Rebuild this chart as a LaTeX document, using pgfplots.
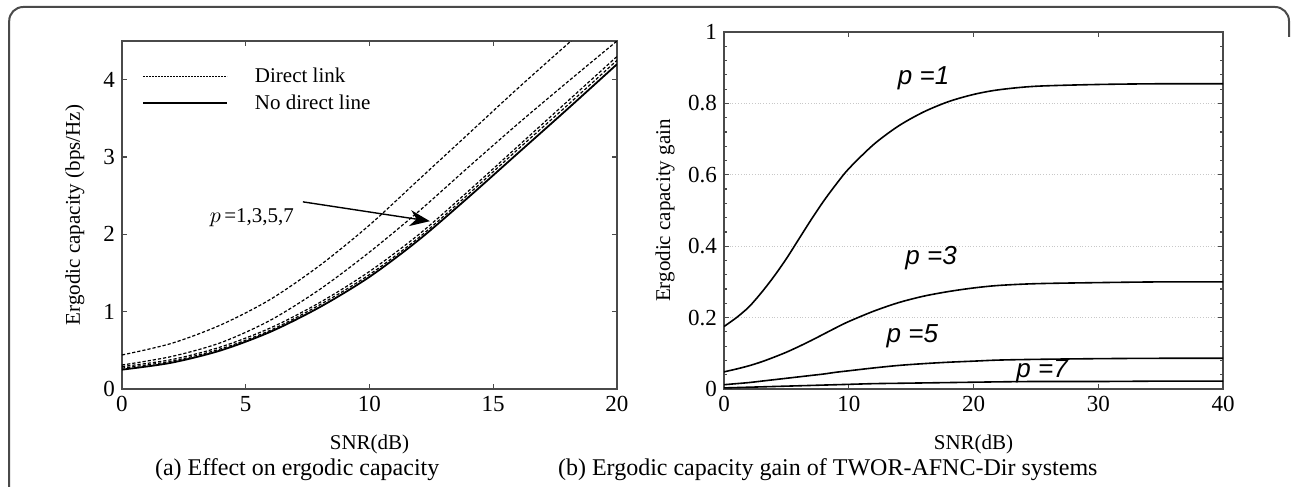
\documentclass[border=0pt]{standalone}
\usepackage{fontspec}
\setmainfont{Liberation Serif}
\newfontfamily\helv{Liberation Sans}
\usepackage{pgfplots}
\pgfplotsset{compat=1.18}
\usetikzlibrary{arrows.meta}
\definecolor{axc}{HTML}{4A4A4A}
\definecolor{gridc}{HTML}{C8C8C8}
\newcommand{\tfont}{\fontsize{10.5}{12}\selectfont}
\newcommand{\kfont}{\fontsize{11.5}{13}\selectfont}
\pgfplotsset{
  panel/.style={
    scale only axis, anchor=south west,
    axis line style={axc, line width=0.7pt},
    tick style={axc, line width=0.6pt},
    tick align=inside, major tick length=2.5pt, minor tick length=1.5pt,
    ticklabel style={font=\kfont},
    /pgf/number format/assume math mode=true,
    label style={font=\tfont},
  },
  dl/.style={black, line width=0.6pt, dash pattern=on 1.6pt off 1pt, smooth},
  nd/.style={black, line width=0.9pt, smooth},
  gc/.style={black, line width=0.8pt, smooth},
}

\pgfplotstableread{
x   nd    p7    p5    p3    p1
0   0.25  0.27  0.29  0.31  0.44
2   0.34  0.36  0.38  0.42  0.59
4   0.50  0.52  0.545 0.60  0.83
6   0.74  0.76  0.79  0.89  1.16
8   1.06  1.09  1.12  1.29  1.60
10  1.45  1.48  1.52  1.77  2.12
12  1.93  1.96  2.00  2.30  2.71
14  2.48  2.52  2.56  2.87  3.30
16  3.05  3.10  3.14  3.43  3.89
18  3.62  3.67  3.72  3.97  4.46
20  4.20  4.25  4.30  4.50  5.02
}\capdata

\pgfplotstableread{
x   g1     g3     g5     g7
0   0.175  0.048  0.012  0.003
1   0.200  0.056  0.015  0.004
2   0.230  0.065  0.018  0.005
3   0.270  0.076  0.022  0.006
4   0.315  0.089  0.026  0.007
5   0.365  0.103  0.030  0.008
6   0.420  0.119  0.034  0.009
7   0.475  0.136  0.038  0.010
8   0.527  0.154  0.042  0.011
9   0.574  0.172  0.047  0.012
10  0.617  0.189  0.051  0.013
12  0.685  0.218  0.059  0.015
14  0.737  0.242  0.066  0.016
16  0.776  0.260  0.071  0.017
18  0.805  0.273  0.075  0.018
20  0.825  0.283  0.078  0.019
22  0.838  0.290  0.081  0.020
25  0.848  0.295  0.083  0.021
30  0.853  0.298  0.085  0.021
35  0.855  0.300  0.086  0.022
40  0.855  0.300  0.086  0.022
}\gaindata

\begin{document}
\begin{tikzpicture}
\useasboundingbox (0pt,0pt) rectangle (646pt,243.5pt);
\draw[axc, line width=1pt, rounded corners=7pt] (4.6pt,0pt) -- (4.6pt,240pt) -- (644.5pt,240pt) -- (644.5pt,225pt);

% (a)
\begin{axis}[panel, at={(61pt,49pt)}, width=247.5pt, height=174pt,
  xmin=0, xmax=20, ymin=0, ymax=4.5,
  xtick={0,5,...,20}, ytick={0,1,2,3,4},
  xlabel={SNR(dB)}, ylabel={Ergodic capacity (bps/Hz)},
  xlabel style={at={(axis description cs:0.5,-0.16)}, anchor=center},
  ylabel style={at={(axis description cs:-0.095,0.5)}, anchor=center},
  legend style={draw=none, fill=none, font=\tfont, at={(rel axis cs:0.04,0.935)},
    anchor=north west, inner sep=0pt, row sep=0.5pt,
    /tikz/every odd column/.style={column sep=11.5pt}},
  legend cell align=left,
  legend image code/.code={\draw[#1] (0pt,0pt) -- (42pt,0pt);},
]
\addlegendimage{black, line width=0.6pt, dash pattern=on 0.9pt off 0.6pt}
\addlegendentry{Direct link}
\addlegendimage{black, line width=0.9pt}
\addlegendentry{No direct line}
\addplot[dl] table[x=x, y=p1] {\capdata};
\addplot[dl] table[x=x, y=p3] {\capdata};
\addplot[dl] table[x=x, y=p5] {\capdata};
\addplot[dl] table[x=x, y=p7] {\capdata};
\addplot[nd] table[x=x, y=nd] {\capdata};
\draw[black, line width=0.7pt, -{Stealth[length=10pt, width=8pt]}] (axis cs:7.31,2.42) -- (axis cs:12.44,2.17);
\node[font=\tfont] at (axis cs:5.25,2.21) {$p$\,=1,3,5,7};
\end{axis}

% (b)
\begin{axis}[panel, at={(362pt,49pt)}, width=249.5pt, height=178.5pt,
  xmin=0, xmax=40, ymin=0, ymax=1,
  xtick={0,10,...,40}, ytick={0,0.2,...,1},
  minor y tick num=4,
  ymajorgrids, grid style={gridc, densely dotted, line width=0.5pt},
  xlabel={SNR(dB)}, ylabel={Ergodic capacity gain},
  xlabel style={at={(axis description cs:0.5,-0.155)}, anchor=center},
  ylabel style={at={(axis description cs:-0.118,0.5)}, anchor=center},
]
\addplot[gc] table[x=x, y=g1] {\gaindata};
\addplot[gc] table[x=x, y=g3] {\gaindata};
\addplot[gc] table[x=x, y=g5] {\gaindata};
\addplot[gc] table[x=x, y=g7] {\gaindata};
\begin{scope}[font=\helv\itshape\fontsize{13}{15}\selectfont]
\node at (axis cs:16,0.87) {p =1};
\node at (axis cs:16.6,0.367) {p =3};
\node at (axis cs:15.1,0.147) {p =5};
\node at (axis cs:25.5,0.05) {p =7};
\end{scope}
\end{axis}

\node[anchor=base west, font=\fontsize{12}{14}\selectfont] at (74pt,5.5pt) {(a) Effect on ergodic capacity};
\node[anchor=base west, font=\fontsize{12}{14}\selectfont] at (275.5pt,5.5pt) {(b) Ergodic capacity gain of TWOR-AFNC-Dir systems};
\end{tikzpicture}
\end{document}
